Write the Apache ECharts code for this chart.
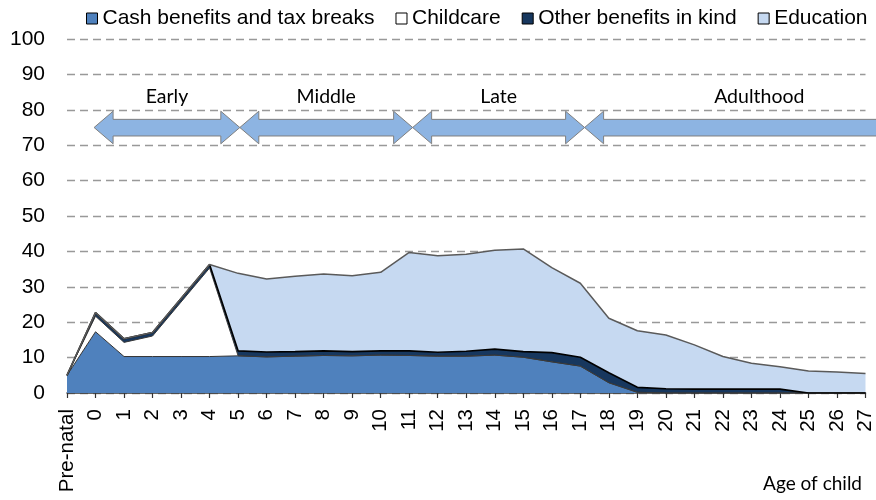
<!DOCTYPE html>
<html><head><meta charset="utf-8">
<script src="https://cdn.jsdelivr.net/npm/echarts@6/dist/echarts.min.js"></script>
<style>html,body{margin:0;padding:0;background:#fff}#c{width:876px;height:500px}</style>
</head><body><div id="c"></div>
<script>
const categories = ['Pre-natal','0','1','2','3','4','5','6','7','8','9','10','11','12','13','14','15','16','17','18','19','20','21','22','23','24','25','26','27'];
const cash      = [5, 17.3, 10.3, 10.3, 10.3, 10.3, 10.5, 10.2, 10.4, 10.6, 10.5, 10.7, 10.6, 10.4, 10.4, 10.7, 10.1, 8.8, 7.6, 2.9, 0.2, 0, 0, 0, 0, 0, 0, 0, 0];
const childcare = [0, 4.4, 4.0, 5.8, 15.4, 25.0, 0, 0, 0, 0, 0, 0, 0, 0, 0, 0, 0, 0, 0, 0, 0, 0, 0, 0, 0, 0, 0, 0, 0];
const otherKind = [0, 1.0, 1.0, 1.0, 1.0, 1.0, 1.4, 1.4, 1.3, 1.3, 1.2, 1.2, 1.3, 1.1, 1.4, 1.7, 1.6, 2.6, 2.5, 2.8, 1.4, 1.2, 1.1, 1.1, 1.1, 1.1, 0, 0, 0];
const education = [0, 0, 0, 0, 0, 0, 21.9, 20.6, 21.3, 21.7, 21.4, 22.2, 27.8, 27.3, 27.4, 27.9, 29.0, 24.0, 20.9, 15.4, 16.0, 15.2, 12.5, 9.2, 7.3, 6.3, 6.2, 5.9, 5.5];
const seriesNames = ['Cash benefits and tax breaks', 'Childcare', 'Other benefits in kind', 'Education'];
const stageNames = ['Early', 'Middle', 'Late', 'Adulthood'];
const stageStart = [0.95, 6.06, 12.12, 18.15];
const stageEnd   = [6.06, 12.12, 18.15, 30.4];

const chart = echarts.init(document.getElementById('c'));
const fillColors = ['#4F81BD', '#FFFFFF', '#17375E', '#C6D9F1'];
const lineColors = ['#333333', '#3a3a3a', '#000000', '#5a5a5a'];
const lineWidths = [1, 1, 1.6, 1.5];
const values = [cash, childcare, otherKind, education];

const areaSeries = values.map((v, i) => ({
  name: seriesNames[i],
  type: 'line',
  stack: 'total',
  data: v,
  symbol: 'none',
  showSymbol: false,
  xAxisIndex: 0,
  yAxisIndex: 0,
  lineStyle: { color: lineColors[i], width: lineWidths[i] },
  itemStyle: { color: fillColors[i], borderColor: '#000', borderWidth: 1 },
  areaStyle: { color: fillColors[i], opacity: 1 },
  emphasis: { disabled: true },
  z: 2
}));

const arrowSeries = {
  type: 'custom',
  xAxisIndex: 1,
  yAxisIndex: 0,
  silent: true,
  z: 5,
  data: stageStart.map((s, i) => [s, stageEnd[i]]),
  encode: { x: [0, 1] },
  renderItem: function (params, api) {
    const s = api.value(0), e = api.value(1);
    const name = stageNames[params.dataIndex];
    const pL = api.coord([s, 75]);
    const pR = api.coord([e, 75]);
    const yHT = api.coord([s, 79.6])[1];
    const yST = api.coord([s, 77.3])[1];
    const ySB = api.coord([s, 72.6])[1];
    const yHB = api.coord([s, 70.4])[1];
    const yc = pL[1];
    const h = 19;
    const x1 = pL[0], x2 = pR[0];
    const pts = [[x1, yc], [x1 + h, yHT], [x1 + h, yST], [x2 - h, yST], [x2 - h, yHT], [x2, yc],
                 [x2 - h, yHB], [x2 - h, ySB], [x1 + h, ySB], [x1 + h, yHB]];
    const lp = api.coord([(s + e) / 2, 83.7]);
    return {
      type: 'group',
      children: [
        { type: 'polygon', shape: { points: pts }, style: { fill: '#8DB4E2', stroke: '#7F7F7F', lineWidth: 1 } },
        { type: 'text', style: { text: name, x: lp[0], y: lp[1], align: 'center', verticalAlign: 'middle', font: '19.5px Lato', fill: '#000' } }
      ]
    };
  }
};

chart.setOption({
  animation: false,
  backgroundColor: '#fff',
  title: {
    text: 'Age of child',
    right: 9,
    bottom: 2,
    textStyle: { fontFamily: 'Lato', fontSize: 19, fontWeight: 'normal', color: '#000' }
  },
  legend: {
    data: seriesNames,
    left: 81,
    top: 3,
    width: 795,
    icon: 'rect',
    itemWidth: 11,
    itemHeight: 11,
    itemGap: 21,
    itemStyle: { borderColor: '#000', borderWidth: 1 },
    textStyle: { fontFamily: 'Liberation Sans', fontSize: 21, color: '#000', padding: [0, 0, 0, 0] }
  },
  grid: { left: 67, right: 10, top: 39, bottom: 107, containLabel: false },
  xAxis: [{
    type: 'category',
    data: categories,
    boundaryGap: false,
    axisLine: { lineStyle: { color: '#333', width: 1.5 } },
    axisTick: { show: true, length: 5, interval: 0, lineStyle: { color: '#333', width: 1.2 } },
    axisLabel: { interval: 0, rotate: 90, margin: 16, fontFamily: 'Liberation Sans', fontSize: 20.5, color: '#000' },
    splitLine: { show: false }
  }, {
    type: 'value',
    min: 0,
    max: 28,
    show: false
  }],
  yAxis: {
    type: 'value',
    min: 0,
    max: 100,
    interval: 10,
    axisLine: { show: false },
    axisTick: { show: false },
    axisLabel: { margin: 22, fontFamily: 'Liberation Sans', fontSize: 21, color: '#000' },
    splitLine: { lineStyle: { color: '#999', width: 1.4, type: [8, 5] } }
  },
  series: areaSeries.concat([arrowSeries])
});
</script>
</body></html>
